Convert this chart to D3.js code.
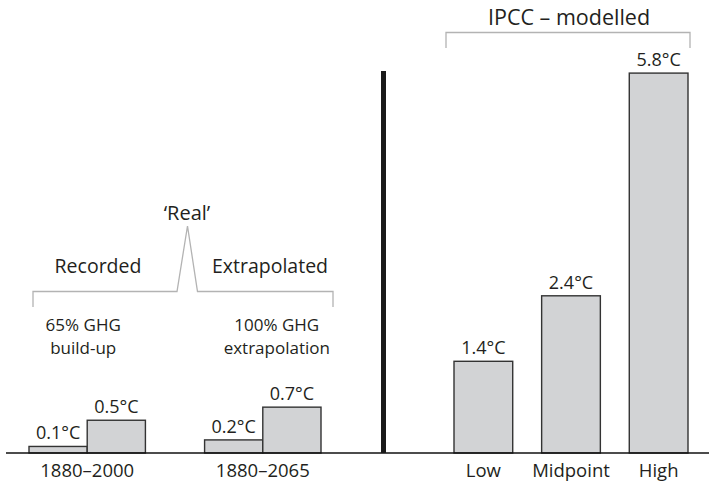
<!DOCTYPE html>
<html>
<head>
<meta charset="utf-8">
<script src="https://cdn.jsdelivr.net/npm/d3@7"></script>
<style>
  body { margin: 0; background: #fff; }
  svg { display: block; font-family: "Open Sans", "Noto Sans", sans-serif; }
  text { fill: #231f20; }
</style>
</head>
<body>
<svg id="chart" width="709" height="483"></svg>
<script>
// 'Real' warming, two periods, each with two bars
const periods = ["1880–2000", "1880–2065"]
const periodBars = ["ghg", "total"]
const recordedValues = [0.1, 0.5]
const extrapolatedValues = [0.2, 0.7]
const periodNotes = [["65% GHG", "build-up"], ["100% GHG", "extrapolation"]]
const periodHeads = ["Recorded", "Extrapolated"]

// IPCC scenarios
const ipccCategories = ["Low", "Midpoint", "High"]
const ipccValues = [1.4, 2.4, 5.8]

const svg = d3.select("#chart")
const baseY = 453

const y = d3.scaleLinear().domain([0, 6]).range([baseY, baseY - 6 * 65.5])

const x0 = d3.scaleBand().domain(periods).range([29, 321]).paddingInner(0.337)
const x1 = d3.scaleBand().domain(periodBars).range([0, x0.bandwidth()])
const xr = d3.scaleBand().domain(ipccCategories).range([454, 688]).paddingInner(0.33)

const fmt = d => d.toFixed(1) + "°C"
const barFill = "#d2d3d5", barStroke = "#333"

// left bars
const leftData = []
periods.forEach((p, i) => {
    const vals = i === 0 ? recordedValues : extrapolatedValues
    periodBars.forEach((b, j) => leftData.push({period: p, bar: b, value: vals[j]}))
})

svg.selectAll("rect.left").data(leftData).join("rect")
    .attr("class", "left")
    .attr("x", d => x0(d.period) + x1(d.bar))
    .attr("y", d => y(d.value))
    .attr("width", x1.bandwidth())
    .attr("height", d => baseY - y(d.value))
    .attr("fill", barFill).attr("stroke", barStroke).attr("stroke-width", 1.4)

svg.selectAll("text.lval").data(leftData).join("text")
    .attr("class", "lval")
    .attr("x", d => x0(d.period) + x1(d.bar) + x1.bandwidth() / 2)
    .attr("y", d => y(d.value) - 7)
    .attr("text-anchor", "middle").attr("font-size", 18)
    .text(d => fmt(d.value))

// right bars
svg.selectAll("rect.right").data(ipccValues).join("rect")
    .attr("class", "right")
    .attr("x", (d, i) => xr(ipccCategories[i]))
    .attr("y", d => y(d))
    .attr("width", xr.bandwidth())
    .attr("height", d => baseY - y(d))
    .attr("fill", barFill).attr("stroke", barStroke).attr("stroke-width", 1.4)

svg.selectAll("text.rval").data(ipccValues).join("text")
    .attr("class", "rval")
    .attr("x", (d, i) => xr(ipccCategories[i]) + xr.bandwidth() / 2)
    .attr("y", d => y(d) - 7)
    .attr("text-anchor", "middle").attr("font-size", 18)
    .text(fmt)

// baseline + axes labels
svg.append("line")
    .attr("x1", 6).attr("x2", 709).attr("y1", baseY).attr("y2", baseY)
    .attr("stroke", "#111").attr("stroke-width", 1.6)

const axisLeft = d3.axisBottom(x0).tickSize(0).tickPadding(11)
const gl = svg.append("g").attr("transform", `translate(0,${baseY})`).call(axisLeft)
const axisRight = d3.axisBottom(xr).tickSize(0).tickPadding(11)
const gr = svg.append("g").attr("transform", `translate(0,${baseY})`).call(axisRight)
for (const g of [gl, gr]) {
    g.select(".domain").remove()
    g.selectAll("text").attr("font-family", "Open Sans, Noto Sans, sans-serif")
        .attr("font-size", 18.5).attr("fill", "#231f20")
}

// separator
svg.append("line")
    .attr("x1", 383.5).attr("x2", 383.5).attr("y1", 71).attr("y2", baseY)
    .attr("stroke", "#1a1a1a").attr("stroke-width", 5)

// notes above left groups
periods.forEach((p, i) => {
    const cx = x0(p) + x0.bandwidth() / 2 + (i === 0 ? -4 : 14)
    svg.append("text").attr("x", cx).attr("y", 330.5)
        .attr("text-anchor", "middle").attr("font-size", 17).text(periodNotes[i][0])
    svg.append("text").attr("x", cx).attr("y", 354)
        .attr("text-anchor", "middle").attr("font-size", 17).text(periodNotes[i][1])
})

// 'Real' bracket
const bracket = "#b3b3b3"
svg.append("path")
    .attr("d", "M33,307 V291.5 H177 L187.5,226 L197.5,291.5 H333 V307")
    .attr("fill", "none").attr("stroke", bracket).attr("stroke-width", 1.3)
svg.append("text").attr("x", 98).attr("y", 273).attr("text-anchor", "middle")
    .attr("font-size", 19.5).text(periodHeads[0])
svg.append("text").attr("x", 270).attr("y", 273).attr("text-anchor", "middle")
    .attr("font-size", 19.5).text(periodHeads[1])
svg.append("text").attr("x", 187).attr("y", 220).attr("text-anchor", "middle")
    .attr("font-size", 20).text("‘Real’")

// IPCC bracket
svg.append("path")
    .attr("d", "M446,48 V32.5 H690 V48")
    .attr("fill", "none").attr("stroke", bracket).attr("stroke-width", 1.3)
svg.append("text").attr("x", 569).attr("y", 25).attr("text-anchor", "middle")
    .attr("font-size", 21.5).text("IPCC – modelled")
</script>
</body>
</html>
